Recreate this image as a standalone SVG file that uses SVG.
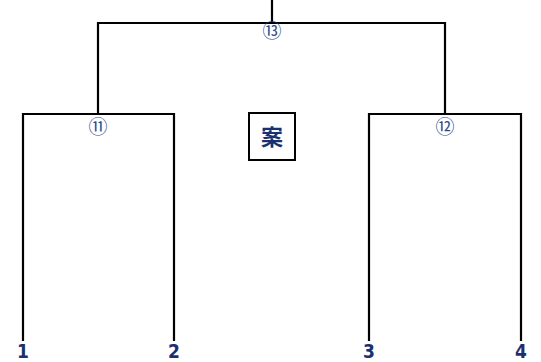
<svg xmlns="http://www.w3.org/2000/svg" width="541" height="362" viewBox="0 0 541 362">
<style>
.ln{fill:none;stroke:#000;stroke-width:2.2;stroke-linecap:square}
.num{font-family:"DejaVu Sans Condensed","DejaVu Sans",sans-serif;font-weight:bold;font-size:19px;fill:#1b3070;text-anchor:middle}
.circ{font-family:"Noto Sans CJK JP","DejaVu Sans",sans-serif;font-size:19px;fill:#2c4a8c;text-anchor:middle}
.an{font-family:"Noto Sans CJK JP",sans-serif;font-weight:bold;font-size:22px;fill:#1b3070;text-anchor:middle}
</style>
<rect width="541" height="362" fill="#fff"/>
<g id="connectors">
<path class="ln" d="M272,0 V23 M98,23 H445 M98,23 V114 M445,23 V114"/>
<path class="ln" d="M23,114 H174 M23,114 V340 M174,114 V340"/>
<path class="ln" d="M369,114 H521 M369,114 V340 M521,114 V340"/>
</g>
<g id="n13"><text class="circ" x="272" y="38">⑬</text></g>
<g id="n11"><text class="circ" x="98" y="134">⑪</text></g>
<g id="n12"><text class="circ" x="445" y="134">⑫</text></g>
<g id="an"><rect x="249" y="113" width="46" height="47" fill="#fff" stroke="#000" stroke-width="2"/><text class="an" x="272" y="145">案</text></g>
<g id="p1"><text class="num" x="23" y="358">1</text></g>
<g id="p2"><text class="num" x="174" y="358">2</text></g>
<g id="p3"><text class="num" x="369" y="358">3</text></g>
<g id="p4"><text class="num" x="521" y="358">4</text></g>
</svg>
